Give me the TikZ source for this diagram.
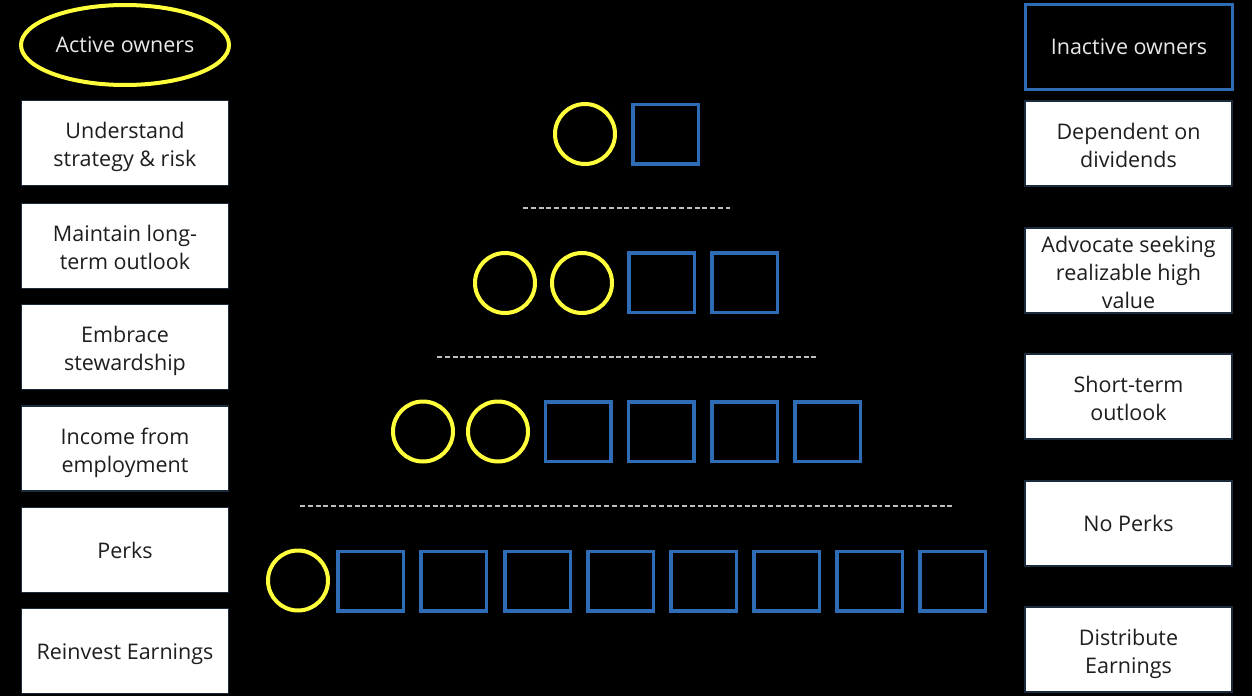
\documentclass[tikz,border=0pt]{standalone}
\usepackage{fontspec}
\setmainfont{Open Sans}
\usetikzlibrary{shapes.geometric}
\definecolor{yel}{HTML}{FFFF3C}
\definecolor{blu}{HTML}{2E6DB5}
\definecolor{edgec}{HTML}{1B2B3C}
\definecolor{dashc}{HTML}{BFBFBF}
\definecolor{txtd}{HTML}{1E1E1E}
\definecolor{txtl}{HTML}{E8E8E8}
\begin{document}
\begin{tikzpicture}[x=1pt,y=-1pt,
  wbox/.style={draw=edgec, line width=1.5pt, fill=white, minimum width=207pt, minimum height=85pt, align=center, text=txtd, font=\fontsize{21.5}{28}\selectfont, inner sep=0pt},
  low1/.style={text height=22pt},
  low2/.style={text height=52pt, text depth=5pt},
  low3/.style={text height=80pt, text depth=5pt},
  ycirc/.style={circle, draw=yel, line width=4pt, minimum size=60pt, inner sep=0pt},
  bsq/.style={rectangle, draw=blu, line width=3.5pt, minimum width=65.5pt, minimum height=59.5pt, inner sep=0pt},
  sep/.style={draw=dashc, line width=2pt, dash pattern=on 5pt off 2.8pt}
]
\fill[black] (0,0) rectangle (1252,696);
\useasboundingbox (0,0) rectangle (1252,696);

% headers
\node[ellipse, draw=yel, line width=4pt, minimum width=208pt, minimum height=80pt, inner sep=0pt, text=txtl, font=\fontsize{21.5}{26}\selectfont] (active) at (125,45) {Active owners};
\node[rectangle, draw=blu, line width=3pt, fill=black, minimum width=207pt, minimum height=85pt, inner sep=0pt, text=txtl, font=\fontsize{21.5}{26}\selectfont] (inactive) at (1129,47) {Inactive owners};

% left boxes
\node[wbox, low2] (al1) at (125,143) {Understand\\strategy \& risk};
\node[wbox, low2] (al2) at (125,246) {Maintain long-\\term outlook};
\node[wbox, low2] (al3) at (125,347) {Embrace\\stewardship};
\node[wbox, low2] (al4) at (125,448.5) {Income from\\employment};
\node[wbox] (al5) at (125,550) {Perks};
\node[wbox, low1] (al6) at (125,651) {Reinvest Earnings};

% right boxes
\node[wbox, low2] (ar1) at (1128.5,143.5) {Dependent on\\dividends};
\node[wbox, low3] (ar2) at (1128.5,270.5) {Advocate seeking\\realizable high\\value};
\node[wbox, low2] (ar3) at (1128.5,396.5) {Short-term\\outlook};
\node[wbox] (ar4) at (1128.5,523.5) {No Perks};
\node[wbox, low2] (ar5) at (1128.5,649.5) {Distribute\\Earnings};

% row 1
\node[ycirc] (c11) at (585,134) {};
\node[bsq] (s11) at (665.5,134) {};
\draw[sep] (523,208) -- (730,208);

% row 2
\node[ycirc] (c21) at (505,283) {};
\node[ycirc] (c22) at (582,283) {};
\node[bsq] (s21) at (661.5,282.5) {};
\node[bsq] (s22) at (744.5,282.5) {};
\draw[sep] (437,357) -- (817,357);

% row 3
\node[ycirc] (c31) at (423,431.5) {};
\node[ycirc] (c32) at (498,431.5) {};
\node[bsq] (s31) at (578,431.5) {};
\node[bsq] (s32) at (661,431.5) {};
\node[bsq] (s33) at (744.5,431.5) {};
\node[bsq] (s34) at (827.5,431.5) {};
\draw[sep] (300,506) -- (954,506);

% row 4
\node[ycirc] (c41) at (298,580.5) {};
\foreach \i/\x in {1/370.5,2/453.5,3/537.5,4/620.5,5/703.5,6/786.5,7/869.5,8/952.5}
  \node[bsq] (s4\i) at (\x,581) {};
\end{tikzpicture}
\end{document}
